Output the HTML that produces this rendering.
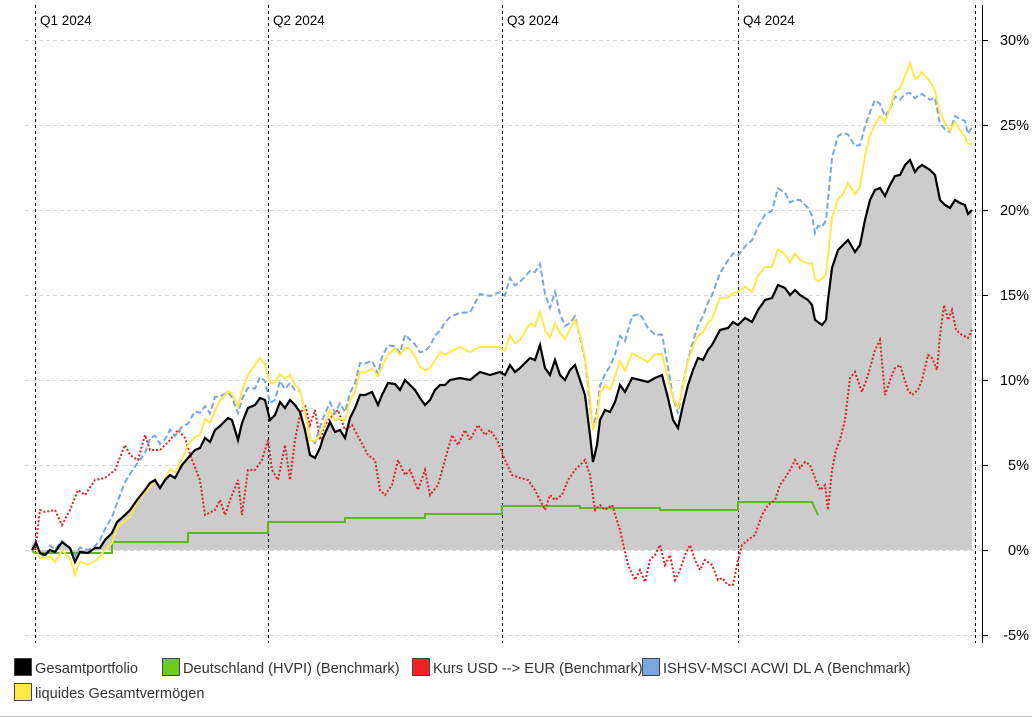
<!DOCTYPE html>
<html><head><meta charset="utf-8"><style>
body{margin:0;width:1032px;height:718px;background:#fff;overflow:hidden;font-family:"Liberation Sans","DejaVu Sans",sans-serif}
svg{position:absolute;left:0;top:0}
</style></head><body>
<svg id="s" width="1032" height="718" xmlns="http://www.w3.org/2000/svg" font-family="Liberation Sans, DejaVu Sans, sans-serif">
<g stroke="#d8d8d8" stroke-dasharray="4,3" stroke-width="1">
<line x1="25" x2="982" y1="40.5" y2="40.5"/><line x1="25" x2="982" y1="125.5" y2="125.5"/>
<line x1="25" x2="982" y1="210.5" y2="210.5"/><line x1="25" x2="982" y1="295.5" y2="295.5"/>
<line x1="25" x2="982" y1="380.5" y2="380.5"/><line x1="25" x2="982" y1="465.5" y2="465.5"/>
<line x1="25" x2="982" y1="550.5" y2="550.5"/><line x1="25" x2="982" y1="635.5" y2="635.5"/>
</g>
<path id="fill" fill="#cccccc"/>
<g stroke="#000" stroke-dasharray="3,3" stroke-width="1">
<line x1="35.5" x2="35.5" y1="5" y2="643"/><line x1="268.5" x2="268.5" y1="5" y2="643"/>
<line x1="502.5" x2="502.5" y1="5" y2="643"/><line x1="738.5" x2="738.5" y1="5" y2="643"/>
<line x1="975.5" x2="975.5" y1="5" y2="643"/>
</g>
<g font-size="13.5" fill="#000">
<text x="40" y="25">Q1 2024</text><text x="273" y="25">Q2 2024</text>
<text x="507" y="25">Q3 2024</text><text x="743" y="25">Q4 2024</text>
</g>
<line x1="982.5" x2="982.5" y1="5" y2="643" stroke="#000"/>
<g stroke="#000"><line x1="982" x2="988" y1="40.5" y2="40.5"/><line x1="982" x2="988" y1="125.5" y2="125.5"/><line x1="982" x2="988" y1="210.5" y2="210.5"/><line x1="982" x2="988" y1="295.5" y2="295.5"/><line x1="982" x2="988" y1="380.5" y2="380.5"/><line x1="982" x2="988" y1="465.5" y2="465.5"/><line x1="982" x2="988" y1="550.5" y2="550.5"/><line x1="982" x2="988" y1="635.5" y2="635.5"/></g>
<g font-size="14.5" fill="#000" text-anchor="end">
<text x="1029" y="45">30%</text><text x="1029" y="130">25%</text><text x="1029" y="215">20%</text><text x="1029" y="300">15%</text><text x="1029" y="385">10%</text><text x="1029" y="470">5%</text><text x="1029" y="555">0%</text><text x="1029" y="640">-5%</text>
</g>
<polyline id="green" fill="none" stroke="#5db820" stroke-width="2" points="32,551 35,553 112,553 112,542 188,542 188,533 268,533 268,522 345,522 345,518 425,518 425,514 502,514 502,506 580,506 580,508 660,508 660,510 738,510 738,502 812,502 818,515"/>
<polyline id="red" fill="none" stroke="#e02020" stroke-width="2" stroke-dasharray="2,2"/>
<polyline id="blue" fill="none" stroke="#7aa6e0" stroke-width="2" stroke-dasharray="6,3"/>
<polyline id="yellow" fill="none" stroke="#ffe84a" stroke-width="2"/>
<polyline id="black" fill="none" stroke="#000" stroke-width="2.2"/>
<line x1="0" x2="1032" y1="716.5" y2="716.5" stroke="#c8c8c8"/>
<g font-size="14.6" fill="#333">
<rect x="14.5" y="658.5" width="17" height="17" fill="#000" stroke="#444"/><text x="35" y="673">Gesamtportfolio</text>
<rect x="162.5" y="658.5" width="17" height="17" fill="#6dcc1c" stroke="#444"/><text x="183" y="673">Deutschland (HVPI) (Benchmark)</text>
<rect x="412.5" y="658.5" width="17" height="17" fill="#ee2222" stroke="#444"/><text x="433" y="673">Kurs USD --&gt; EUR (Benchmark)</text>
<rect x="642.5" y="658.5" width="17" height="17" fill="#7aa6e0" stroke="#444"/><text x="663" y="673">ISHSV-MSCI ACWI DL A (Benchmark)</text>
<rect x="14.5" y="683.5" width="17" height="17" fill="#ffe84a" stroke="#444"/><text x="35" y="698">liquides Gesamtvermögen</text>
</g>
</svg>
<script>
var B=[[32,550],[36,543],[40,553],[45,555],[50,550],[55,552],[62,542],[70,548],[75,562],[80,552],[88,553],[95,548],[100,548],[105,540],[112,533],[117,522],[125,515],[130,510],[137,500],[145,490],[150,483],[155,480],[160,488],[165,480],[170,475],[175,478],[182,465],[188,458],[195,450],[200,448],[205,438],[210,442],[215,430],[220,426],[228,418],[232,420],[238,440],[242,423],[248,408],[255,405],[260,398],[265,400],[270,420],[275,415],[280,402],[285,408],[290,400],[295,405],[300,412],[305,430],[310,455],[315,458],[320,448],[323,438],[330,422],[335,432],[340,430],[345,438],[350,418],[355,408],[360,395],[365,395],[372,392],[378,405],[382,395],[388,383],[395,384],[400,390],[405,380],[410,385],[415,390],[420,398],[425,405],[430,400],[435,390],[440,385],[445,385],[450,380],[460,378],[470,380],[480,372],[490,375],[500,372],[505,375],[510,365],[515,372],[520,368],[530,358],[535,360],[540,345],[545,368],[550,375],[555,360],[560,375],[565,380],[570,370],[575,365],[580,380],[585,395],[590,435],[593,462],[597,445],[600,420],[605,410],[610,412],[615,402],[620,385],[625,392],[632,378],[640,380],[648,382],[655,378],[662,375],[668,398],[673,420],[678,428],[683,405],[688,385],[693,370],[698,358],[703,360],[708,350],[712,345],[720,330],[728,328],[733,322],[738,325],[745,318],[752,322],[758,310],[765,300],[772,298],[778,285],[785,288],[790,295],[795,290],[800,295],[808,300],[812,305],[815,320],[818,322],[822,325],[826,320],[828,300],[832,268],[838,250],[843,245],[848,240],[855,252],[860,245],[865,220],[870,200],[875,190],[880,188],[885,196],[890,185],[895,176],[900,175],[905,165],[910,160],[915,172],[918,168],[922,165],[930,170],[935,175],[940,200],[945,205],[950,208],[955,200],[960,203],[965,205],[968,214],[972,210]];
var YG=[[32,0],[60,-10],[90,-12],[130,-5],[160,0],[200,15],[260,40],[300,20],[330,10],[400,35],[500,25],[580,45],[600,25],[680,20],[720,30],[800,35],[860,60],[880,70],[910,95],[940,85],[972,66]];
var BG=[[32,0],[100,5],[130,35],[160,45],[260,18],[320,18],[400,40],[480,75],[530,90],[570,50],[593,30],[640,65],[680,15],[720,60],[780,95],[815,90],[840,115],[880,83],[910,70],[940,75],[965,85],[972,80]];
var R=[[35,550],[40,510],[45,512],[55,510],[62,525],[70,510],[78,490],[85,495],[95,480],[105,478],[115,470],[125,445],[130,455],[138,460],[145,435],[150,450],[160,450],[170,440],[178,430],[185,438],[192,460],[200,480],[205,515],[215,510],[220,500],[225,515],[230,500],[238,480],[242,515],[248,470],[255,470],[262,460],[268,440],[272,470],[278,480],[285,445],[290,480],[295,440],[300,415],[305,405],[310,425],[315,410],[320,440],[325,425],[330,418],[338,410],[345,430],[352,425],[360,440],[368,455],[375,460],[380,490],[385,495],[392,485],[398,460],[405,475],[410,470],[418,490],[425,470],[430,495],[438,485],[445,460],[452,435],[458,445],[465,430],[470,440],[478,425],[485,435],[490,430],[497,440],[505,460],[512,475],[520,478],[528,480],[535,490],[545,510],[550,495],[555,500],[562,495],[568,480],[575,470],[580,465],[585,460],[590,475],[595,510],[600,505],[605,510],[612,505],[620,530],[628,565],[635,580],[640,570],[645,582],[650,560],[655,555],[660,545],[665,565],[670,555],[675,580],[680,570],[685,555],[690,545],[695,560],[700,570],[705,560],[712,565],[718,580],[722,578],[728,585],[733,585],[738,560],[742,545],[748,540],[755,535],[762,515],[768,505],[775,500],[780,485],[785,478],[790,470],[795,460],[800,468],[805,462],[810,465],[815,478],[820,490],[825,485],[828,510],[832,470],[836,450],[840,440],[845,420],[850,378],[855,372],[862,392],[868,375],[875,350],[880,340],[885,395],[890,380],[895,368],[900,365],[908,390],[912,395],[918,390],[922,380],[928,355],[932,358],[937,370],[940,335],[944,305],[948,320],[952,310],[956,330],[962,335],[968,338],[972,330]];
function interp(t,x){for(var i=1;i<t.length;i++){if(x<=t[i][0]){var a=t[i-1],b=t[i];return a[1]+(b[1]-a[1])*(x-a[0])/(b[0]-a[0]);}}return t[t.length-1][1];}
function pts(a){return a.map(function(p){return p[0]+','+p[1].toFixed(1)}).join(' ');}
var Y=B.map(function(p,i){return [p[0],p[1]-interp(YG,p[0])+((i%3)-1)*2];});
var BL=B.map(function(p,i){return [p[0],p[1]-interp(BG,p[0])+((i%4)-1.5)*2];});
document.getElementById('black').setAttribute('points',pts(B));
document.getElementById('yellow').setAttribute('points',pts(Y));
document.getElementById('blue').setAttribute('points',pts(BL));
document.getElementById('red').setAttribute('points',pts(R));
document.getElementById('fill').setAttribute('d','M32,550 L'+B.map(function(p){return p[0]+','+p[1]}).join(' L')+' L972,550 Z');
</script>
</body></html>
